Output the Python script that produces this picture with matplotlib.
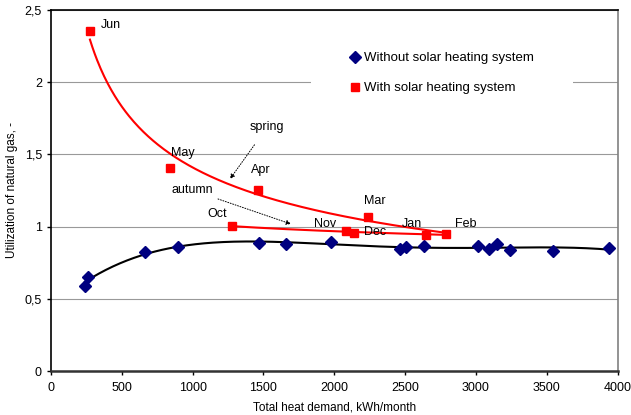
import matplotlib.pyplot as plt
import matplotlib.ticker as mticker
import numpy as np

plt.rcParams['font.family'] = ['Liberation Sans', 'DejaVu Sans']

# Without solar heating system (heat demand kWh/month, utilization)
x_without = [240, 259, 665, 898, 1465, 1658, 1975, 2467, 2504, 2636,
             3015, 3092, 3146, 3240, 3544, 3939]
y_without = [0.589, 0.651, 0.824, 0.861, 0.884, 0.880, 0.891, 0.845, 0.859, 0.863,
             0.868, 0.847, 0.877, 0.838, 0.833, 0.850]

# With solar heating system, one point per month
months = ["Jun", "May", "Apr", "Mar", "Oct", "Nov", "Dec", "Jan", "Feb"]
x_with = [275, 840, 1460, 2236, 1277, 2081, 2138, 2645, 2787]
y_with = [2.355, 1.406, 1.253, 1.066, 1.004, 0.970, 0.956, 0.940, 0.950]

spring = ["Jun", "May", "Apr", "Mar", "Feb"]
autumn = ["Oct", "Nov", "Dec", "Jan", "Feb"]

fig = plt.figure(figsize=(6.31, 4.15), dpi=100)
ax = fig.add_axes([0.0808, 0.106, 0.898, 0.870])

# trend lines
c = np.polyfit(x_without, y_without, 4)
xs = np.linspace(min(x_without), max(x_without), 300)
ax.plot(xs, np.polyval(c, xs), color="black", lw=1.5, zorder=2)

def power_fit(names):
    xx = np.array([x_with[months.index(m)] for m in names], float)
    yy = np.array([y_with[months.index(m)] for m in names], float)
    b, a = np.polyfit(np.log(xx), np.log(yy), 1)
    xg = np.linspace(xx.min(), xx.max(), 300)
    return xg, np.exp(a) * xg ** b

for names in (spring, autumn):
    xg, yg = power_fit(names)
    ax.plot(xg, yg, color="red", lw=1.5, zorder=2)

ax.plot(x_without, y_without, "D", color="#000080", ms=6.5, lw=0,
        label="Without solar heating system", zorder=3)
ax.plot(x_with, y_with, "s", color="red", ms=6, lw=0,
        label="With solar heating system", zorder=3)

# month labels
label_pos = {"Jun": (101, 25), "May": (171, 153), "Apr": (251, 170), "Mar": (364, 201),
             "Oct": (207, 214), "Nov": (314, 224), "Dec": (364, 232), "Jan": (402, 224),
             "Feb": (455, 224)}
for m in months:
    px, py = label_pos[m]
    ax.annotate(m, xy=(px / 631, 1 - py / 415), xycoords="figure fraction",
                fontsize=9, va="center", ha="left")

ax.annotate("spring", xy=(230 / 631, 1 - 179 / 415), xycoords="figure fraction",
            xytext=(250 / 631, 1 - 127 / 415), textcoords="figure fraction",
            fontsize=9, va="center", ha="left",
            arrowprops=dict(arrowstyle="-|>", linestyle=":", lw=0.7, color="black",
                            shrinkA=8, shrinkB=0, mutation_scale=7))
ax.annotate("autumn", xy=(291 / 631, 1 - 224 / 415), xycoords="figure fraction",
            xytext=(171 / 631, 1 - 190 / 415), textcoords="figure fraction",
            fontsize=9, va="center", ha="left",
            arrowprops=dict(arrowstyle="-|>", linestyle=":", lw=0.7, color="black",
                            shrinkA=2, shrinkB=0, mutation_scale=7))

ax.set_xlim(0, 4000)
ax.set_ylim(0, 2.5)
ax.set_xticks(np.arange(0, 4001, 500))
ax.set_yticks(np.arange(0, 2.51, 0.5))
ax.yaxis.set_major_formatter(mticker.FuncFormatter(lambda v, p: f"{v:g}".replace(".", ",")))
ax.tick_params(labelsize=9, length=3, width=1)
ax.tick_params(axis="x", pad=5)
ax.grid(axis="y", color="#999999", lw=0.8)
ax.set_axisbelow(True)
for s in ("left", "top"):
    ax.spines[s].set_color("black")
    ax.spines[s].set_linewidth(1.2)
ax.spines["bottom"].set_color("#333333")
ax.spines["bottom"].set_linewidth(1.8)
ax.spines["right"].set_color("#808080")
ax.spines["right"].set_linewidth(1.2)

ax.set_xlabel("Total heat demand, kWh/month", fontsize=8.5, labelpad=5)
ax.set_ylabel("Utilization of natural gas, -", fontsize=8.5, labelpad=5)

leg = ax.legend(loc="center", bbox_to_anchor=(0.69, 0.825), fontsize=9.5,
                frameon=True, fancybox=False, framealpha=1, edgecolor="none",
                borderpad=3.0, labelspacing=1.35, handlelength=0.7, handletextpad=0.3)

fig.savefig("out.png", dpi=100)
